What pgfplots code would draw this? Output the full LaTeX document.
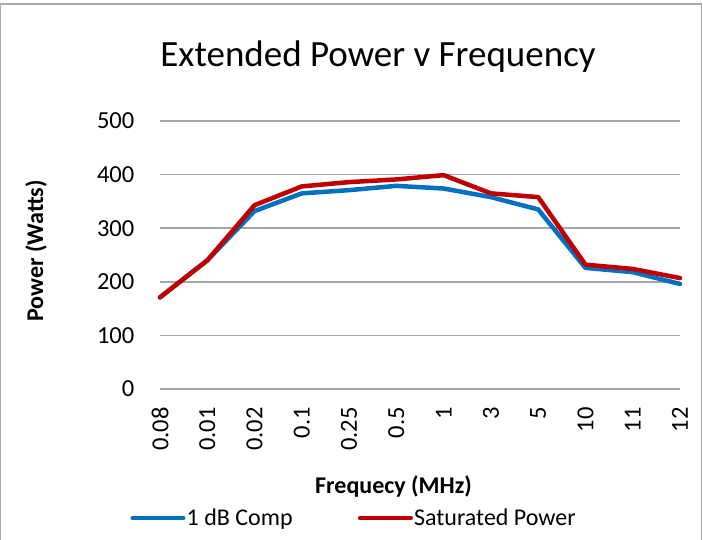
\documentclass[border=0pt]{standalone}
\usepackage{fontspec}
\setmainfont{Carlito}
\usepackage{pgfplots}
\pgfplotsset{compat=1.18}
\definecolor{sblue}{RGB}{0,112,192}
\definecolor{sred}{RGB}{192,0,0}
\definecolor{gridgray}{RGB}{166,166,166}
\definecolor{framegray}{RGB}{170,170,170}
\pgfplotstableread{
x comp sat
0 171 171
1 240 240
2 332 343
3 365 378
4 371 386
5 379 391
6 374 399
7 358 365
8 335 358
9 226 232
10 218 224
11 196 207
}\datatable
\begin{document}
\begin{tikzpicture}
\useasboundingbox (0pt,0pt) rectangle (703pt,539pt);
\draw[framegray, line width=1.2pt] (0.6pt,-5pt) -- (0.6pt,535pt) -- (701.8pt,535pt) -- (701.8pt,-5pt);
\begin{axis}[
  at={(160pt,150pt)}, anchor=south west,
  scale only axis, width=520pt, height=268pt,
  xmin=0, xmax=11, ymin=0, ymax=500,
  xtick={0,...,11},
  xticklabels={0.08,0.01,0.02,0.1,0.25,0.5,1,3,5,10,11,12},
  ytick={0,100,...,500},
  major tick length=0pt,
  axis line style={draw=none},
  ymajorgrids, grid style={gridgray, line width=1.5pt},
  /pgf/number format/assume math mode=true,
  tick label style={font=\fontsize{24.5pt}{29pt}\selectfont},
  xticklabel style={rotate=90, anchor=east, inner sep=0pt},
  xticklabel shift=18pt,
  yticklabel style={anchor=east, inner sep=0pt},
  yticklabel shift=25.5pt,
  clip=false,
  legend columns=2,
  legend style={at={(-0.0615,-0.4813)}, anchor=west, draw=none, fill=none, inner sep=0pt,
    font=\fontsize{24pt}{29pt}\selectfont,
    nodes={inner sep=0pt},
    /tikz/every odd column/.append style={column sep=-1pt},
    /tikz/every even column/.append style={column sep=63pt}},
  legend image code/.code={\path (0pt,0pt) (55pt,0pt);
    \draw[#1, line width=3.5pt, line cap=round] (1.75pt,0pt) -- (53.25pt,0pt);},
]
\addplot[sblue, line width=4.5pt, line cap=round, line join=round] table[x=x, y=comp] {\datatable};
\addlegendentry{1 dB Comp}
\addplot[sred, line width=4.5pt, line cap=round, line join=round] table[x=x, y=sat] {\datatable};
\addlegendentry{Saturated Power}
\end{axis}
\node[anchor=base, inner sep=0pt, font=\fontsize{37pt}{44pt}\selectfont] at (378pt,472pt) {Extended Power v Frequency};
\node[anchor=base, inner sep=0pt, font=\bfseries\fontsize{24pt}{29pt}\selectfont] at (393.5pt,46pt) {Frequecy (MHz)};
\node[anchor=base, rotate=90, inner sep=0pt, font=\bfseries\fontsize{24pt}{29pt}\selectfont] at (43pt,288pt) {Power (Watts)};
\end{tikzpicture}
\end{document}
